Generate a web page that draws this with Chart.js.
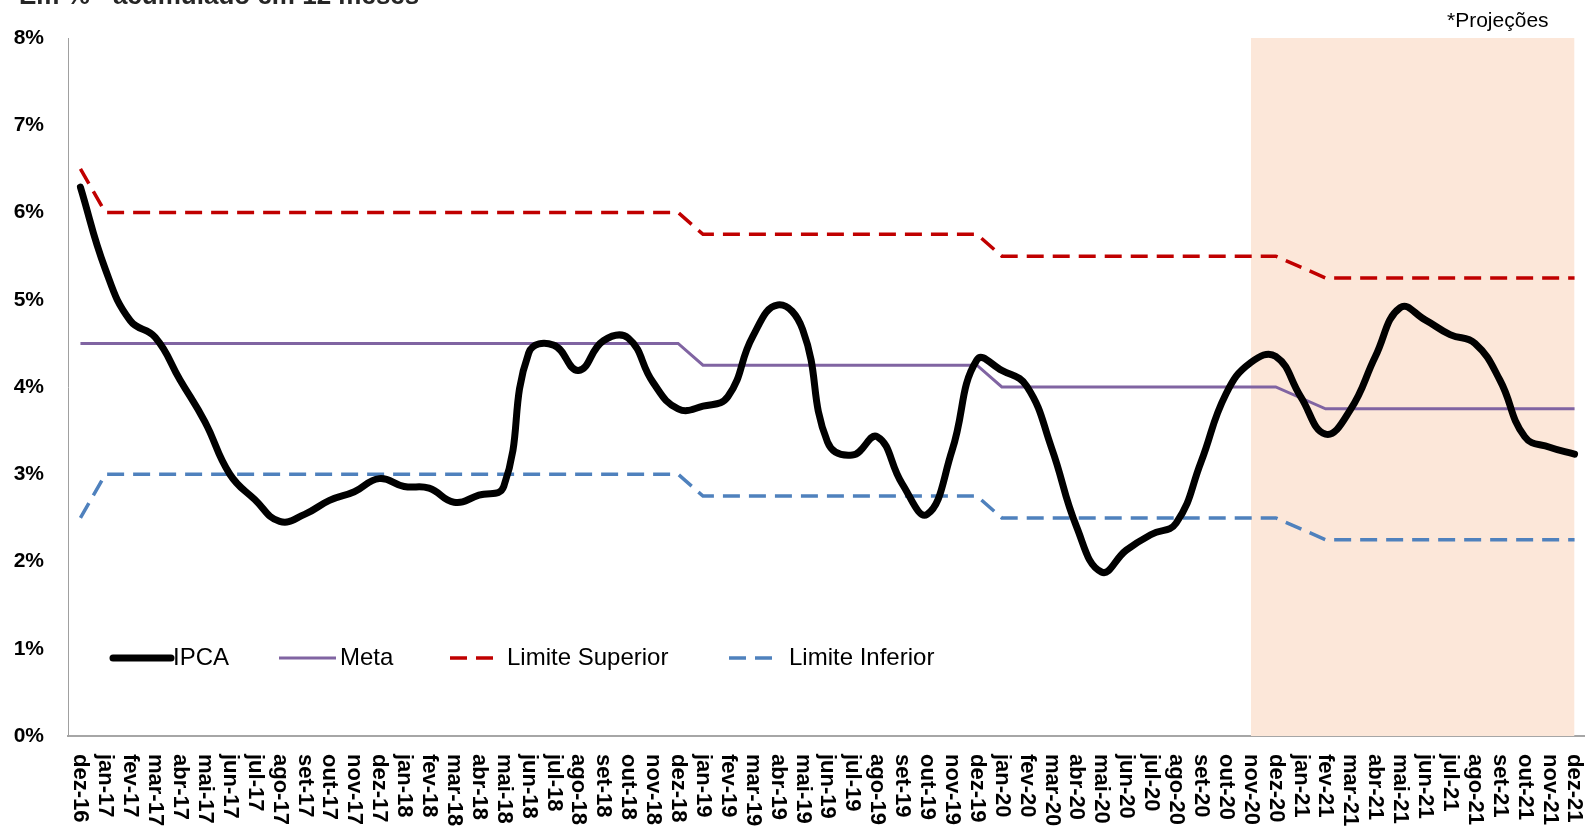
<!DOCTYPE html>
<html><head><meta charset="utf-8">
<script src="https://cdn.jsdelivr.net/npm/chart.js@4.4.1/dist/chart.umd.min.js"></script>
<style>
html,body{margin:0;padding:0;background:#fff;overflow:hidden;width:1585px;height:827px;}
#wrap{position:absolute;left:0;top:0;width:1600px;height:827px;}
</style></head><body>
<div id="wrap"><canvas id="c" width="1600" height="827"></canvas></div>
<script>
const months = ['dez-16','jan-17','fev-17','mar-17','abr-17','mai-17','jun-17','jul-17','ago-17','set-17','out-17','nov-17',
 'dez-17','jan-18','fev-18','mar-18','abr-18','mai-18','jun-18','jul-18','ago-18','set-18','out-18','nov-18',
 'dez-18','jan-19','fev-19','mar-19','abr-19','mai-19','jun-19','jul-19','ago-19','set-19','out-19','nov-19',
 'dez-19','jan-20','fev-20','mar-20','abr-20','mai-20','jun-20','jul-20','ago-20','set-20','out-20','nov-20',
 'dez-20','jan-21','fev-21','mar-21','abr-21','mai-21','jun-21','jul-21','ago-21','set-21','out-21','nov-21','dez-21'];

const ipca = [6.29,5.35,4.76,4.57,4.08,3.60,3.00,2.71,2.46,2.54,2.70,2.80,
 2.95,2.86,2.84,2.68,2.76,2.86,4.39,4.48,4.19,4.53,4.56,4.05,
 3.75,3.78,3.89,4.58,4.94,4.66,3.37,3.22,3.43,2.89,2.54,3.27,
 4.31,4.19,4.01,3.30,2.40,1.88,2.13,2.31,2.44,3.14,3.92,4.28,
 4.35,3.89,3.46,3.74,4.35,4.91,4.77,4.60,4.50,4.08,3.43,3.31,3.23];

const meta = [4.5,4.5,4.5,4.5,4.5,4.5,4.5,4.5,4.5,4.5,4.5,4.5,
 4.5,4.5,4.5,4.5,4.5,4.5,4.5,4.5,4.5,4.5,4.5,4.5,
 4.5,4.25,4.25,4.25,4.25,4.25,4.25,4.25,4.25,4.25,4.25,4.25,
 4.25,4.0,4.0,4.0,4.0,4.0,4.0,4.0,4.0,4.0,4.0,4.0,
 4.0,null,3.75,3.75,3.75,3.75,3.75,3.75,3.75,3.75,3.75,3.75,3.75];

const limiteSuperior = [6.5,6.0,6.0,6.0,6.0,6.0,6.0,6.0,6.0,6.0,6.0,6.0,
 6.0,6.0,6.0,6.0,6.0,6.0,6.0,6.0,6.0,6.0,6.0,6.0,
 6.0,5.75,5.75,5.75,5.75,5.75,5.75,5.75,5.75,5.75,5.75,5.75,
 5.75,5.5,5.5,5.5,5.5,5.5,5.5,5.5,5.5,5.5,5.5,5.5,
 5.5,null,5.25,5.25,5.25,5.25,5.25,5.25,5.25,5.25,5.25,5.25,5.25];

const limiteInferior = [2.5,3.0,3.0,3.0,3.0,3.0,3.0,3.0,3.0,3.0,3.0,3.0,
 3.0,3.0,3.0,3.0,3.0,3.0,3.0,3.0,3.0,3.0,3.0,3.0,
 3.0,2.75,2.75,2.75,2.75,2.75,2.75,2.75,2.75,2.75,2.75,2.75,
 2.75,2.5,2.5,2.5,2.5,2.5,2.5,2.5,2.5,2.5,2.5,2.5,
 2.5,null,2.25,2.25,2.25,2.25,2.25,2.25,2.25,2.25,2.25,2.25,2.25];

// shaded projection period (nov-20 .. dez-21) at the top of the scale
const projecoes = [null,null,null,null,null,null,null,null,null,null,null,null,
 null,null,null,null,null,null,null,null,null,null,null,null,
 null,null,null,null,null,null,null,null,null,null,null,null,
 null,null,null,null,null,null,null,null,null,null,null,8,
 8,8,8,8,8,8,8,8,8,8,8,8,8];

const yMin = 0, yMax = 8, yStep = 1;
const titleText = 'Em % - acumulado em 12 meses';
const noteText = '*Projeções';

const FONT = "'Liberation Sans', Arial, sans-serif";

const extras = {
  id: 'extras',
  beforeDatasetsDraw(chart) {
    // thin border on the left edge of the projection band
    const ctx = chart.ctx, xs = chart.scales.x, ys = chart.scales.y;
    const i0 = projecoes.findIndex(v => v !== null);
    const x = Math.round(xs.getPixelForValue(i0)) + 0.5;
    ctx.save();
    ctx.strokeStyle = '#E6D6CC';
    ctx.lineWidth = 1;
    ctx.beginPath();
    ctx.moveTo(x, ys.getPixelForValue(yMax));
    ctx.lineTo(x, ys.getPixelForValue(yMin));
    ctx.stroke();
    ctx.restore();
  },
  afterDraw(chart) {
    const ctx = chart.ctx;
    const xs = chart.scales.x;
    ctx.save();
    ctx.fillStyle = '#262626';
    ctx.font = 'bold 26px ' + FONT;
    ctx.textAlign = 'left';
    ctx.textBaseline = 'alphabetic';
    ctx.fillText(titleText, 19, 4);
    ctx.fillStyle = '#000';
    ctx.font = '21px ' + FONT;
    ctx.fillText(noteText, 1447, 27);
    ctx.font = 'bold 22px ' + FONT;
    ctx.fillStyle = '#000';
    ctx.textBaseline = 'middle';
    ctx.textAlign = 'left';
    months.forEach((m, i) => {
      const x = xs.getPixelForValue(i);
      ctx.save();
      ctx.translate(x, 754);
      ctx.rotate(Math.PI / 2);
      ctx.fillText(m, 0, 0);
      ctx.restore();
    });
    const items = [
      {ds: 0, x1: 113, x2: 171, tx: 173},
      {ds: 1, x1: 279, x2: 336, tx: 340},
      {ds: 2, x1: 450, x2: 494, tx: 507},
      {ds: 3, x1: 729, x2: 773, tx: 789}
    ];
    const ly = 658;
    items.forEach(it => {
      const d = chart.data.datasets[it.ds];
      ctx.beginPath();
      ctx.strokeStyle = d.borderColor;
      ctx.lineWidth = d.borderWidth;
      ctx.lineCap = d.borderCapStyle || 'butt';
      ctx.setLineDash(d.borderDash || []);
      ctx.moveTo(it.x1, ly);
      ctx.lineTo(it.x2, ly);
      ctx.stroke();
      ctx.setLineDash([]);
      ctx.fillStyle = '#000';
      ctx.font = '24px ' + FONT;
      ctx.textBaseline = 'middle';
      ctx.fillText(d.label, it.tx, ly);
    });
    ctx.restore();
  }
};

new Chart(document.getElementById('c'), {
  type: 'line',
  data: {
    labels: months,
    datasets: [
      {label: 'IPCA', data: ipca, borderColor: '#000', backgroundColor: '#000', borderWidth: 7,
       borderCapStyle: 'round', borderJoinStyle: 'round', tension: 0.45, pointRadius: 0, order: 1},
      {label: 'Meta', data: meta, borderColor: '#8064A2', borderWidth: 3, tension: 0, spanGaps: true,
       pointRadius: 0, order: 2},
      {label: 'Limite Superior', data: limiteSuperior, borderColor: '#C00000', borderWidth: 3.5,
       borderDash: [17, 9], tension: 0, spanGaps: true, pointRadius: 0, order: 3},
      {label: 'Limite Inferior', data: limiteInferior, borderColor: '#4F81BD', borderWidth: 3.5,
       borderDash: [17, 9], tension: 0, spanGaps: true, pointRadius: 0, order: 4},
      {label: 'Projeções', data: projecoes, borderWidth: 0, borderColor: 'rgba(0,0,0,0)',
       backgroundColor: '#FCE7D9', fill: 'origin', pointRadius: 0, tension: 0, order: 10}
    ]
  },
  options: {
    responsive: false,
    animation: false,
    devicePixelRatio: 1,
    layout: {padding: {top: 38, right: 13, bottom: 0, left: 0}},
    plugins: {legend: {display: false}, tooltip: {enabled: false}, title: {display: false}},
    scales: {
      x: {
        type: 'category',
        offset: true,
        grid: {display: false, drawTicks: false, offset: true},
        border: {display: true, color: '#A6A6A6', width: 2},
        ticks: {display: false},
        afterFit(s) { s.height = 91; }
      },
      y: {
        min: yMin, max: yMax,
        grid: {display: false, drawTicks: false},
        border: {display: true, color: '#A0A0A0', width: 1},
        ticks: {stepSize: yStep, padding: 24, color: '#000',
          font: {family: FONT, size: 21, weight: 'bold'},
          callback: v => v + '%'},
        afterFit(s) { s.width = 68; }
      }
    }
  },
  plugins: [extras]
});
</script>
</body></html>
